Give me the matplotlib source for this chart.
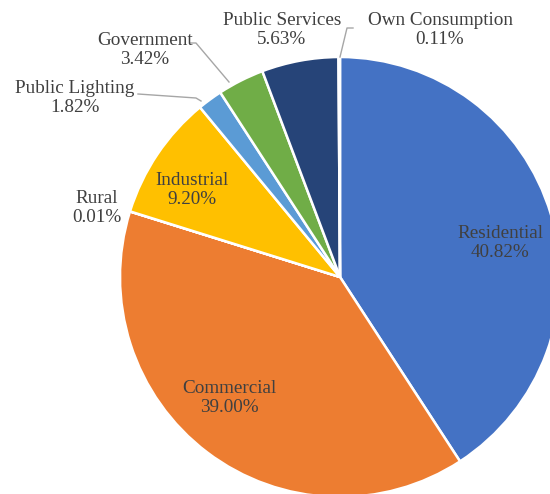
import matplotlib
matplotlib.use("Agg")
import matplotlib.pyplot as plt

categories = ["Residential", "Commercial", "Rural", "Industrial",
              "Public Lighting", "Government", "Public Services", "Own Consumption"]
shares = [40.82, 39.00, 0.01, 9.20, 1.82, 3.42, 5.63, 0.11]
colors = ["#4472C4", "#ED7D31", "#A5A5A5", "#FFC000",
          "#5B9BD5", "#70AD47", "#264478", "#9E480E"]

W, H = 550, 494
fig = plt.figure(figsize=(W / 100, H / 100), dpi=100)
ax = fig.add_axes([0, 0, 1, 1])

cx, cy, R = 340, H - 277, 220
ax.pie(shares, colors=colors, startangle=90, counterclock=False,
       center=(cx, cy), radius=R,
       wedgeprops=dict(edgecolor="white", linewidth=1.8))
ax.set_xlim(0, W)
ax.set_ylim(0, H)
ax.set_aspect("equal")
ax.axis("off")

# label positions in pixel coords (x, y from top)
label_pos = {
    "Residential": (500, 243),
    "Commercial": (229, 398),
    "Rural": (97, 208),
    "Industrial": (192, 190),
    "Public Lighting": (75, 98),
    "Government": (145, 50),
    "Public Services": (282, 30),
    "Own Consumption": (440, 30),
}
txtcol = "#404040"
for cat, val in zip(categories, shares):
    x, y = label_pos[cat]
    ax.text(x, H - y, f"{cat}\n{val:.2f}%", ha="center", va="center",
            fontsize=13.8, family="Liberation Serif", color=txtcol,
            linespacing=1.1)

# leader lines (pixel coords from top)
leaders = [
    [(138, 94), (196, 98), (201, 101)],
    [(190, 43), (196, 43), (229, 82)],
    [(353, 28), (347, 28), (340, 57)],
]
for pts in leaders:
    xs = [p[0] for p in pts]
    ys = [H - p[1] for p in pts]
    ax.plot(xs, ys, color="#A6A6A6", lw=1.0)

fig.savefig("out.png", dpi=100)
